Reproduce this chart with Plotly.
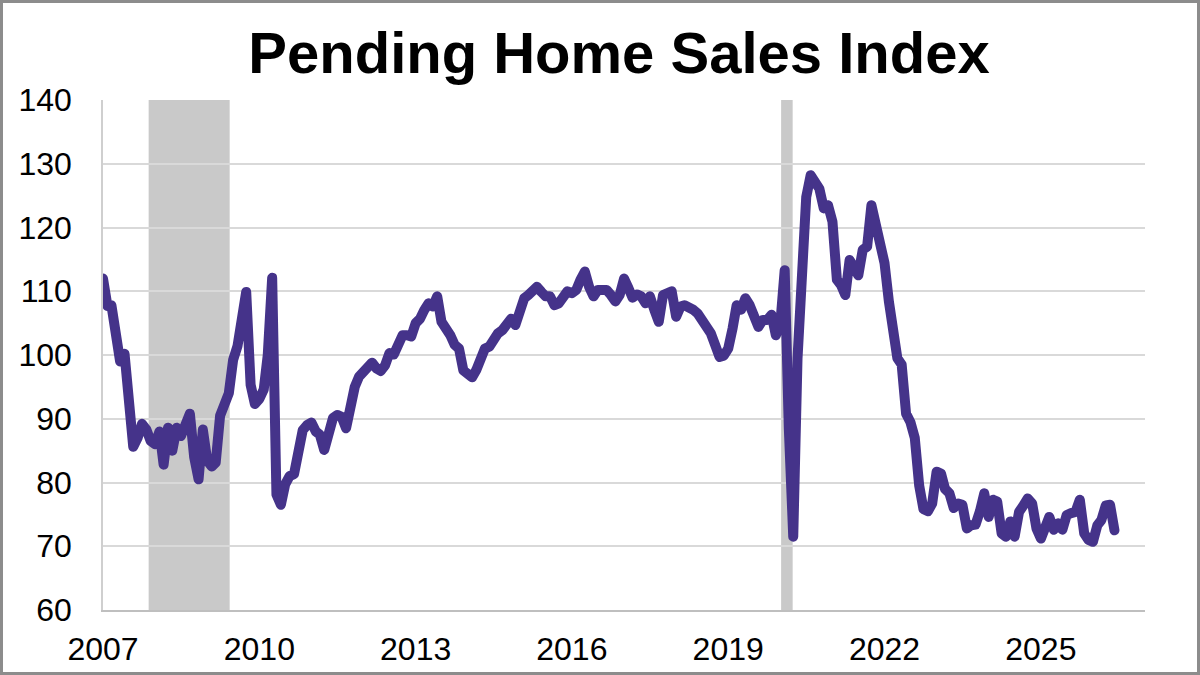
import pandas as pd
import plotly.graph_objects as go

# Pending Home Sales Index, monthly values
phsi_2007 = [112.0, 107.7, 107.8, 104.0, 99.0, 100.2, 93.5, 85.6, 87.0, 89.2, 88.3, 86.5]
phsi_2008 = [86.0, 88.0, 82.8, 88.6, 85.0, 88.6, 87.3, 89.2, 90.8, 84.0, 80.5, 88.3]
phsi_2009 = [83.4, 82.5, 83.1, 90.5, 92.2, 94.0, 99.2, 101.4, 105.7, 109.9, 95.3, 92.3]
phsi_2010 = [93.1, 94.6, 100.0, 112.1, 78.1, 76.5, 79.7, 81.0, 81.3, 86.0, 88.2, 89.0]
phsi_2011 = [89.4, 88.0, 87.5, 85.1, 88.2, 90.1, 90.6, 90.3, 88.5, 92.9, 95.0, 96.6]
phsi_2012 = [97.4, 98.2, 98.8, 97.9, 97.5, 98.4, 100.3, 100.1, 101.6, 103.1, 103.1, 102.9]
phsi_2013 = [105.0, 105.7, 107.0, 108.1, 107.6, 109.2, 105.2, 104.4, 103.1, 101.6, 101.0, 97.6]
phsi_2014 = [97.0, 96.5, 97.6, 99.7, 101.0, 101.3, 102.6, 103.4, 103.9, 105.2, 105.7, 104.7]
phsi_2015 = [107.6, 108.9, 109.4, 110.4, 110.7, 109.9, 109.2, 109.2, 107.8, 108.1, 109.2, 110.0]
phsi_2016 = [109.7, 110.2, 111.8, 113.1, 110.7, 109.2, 110.2, 110.2, 110.2, 109.4, 108.4, 109.4]
phsi_2017 = [112.0, 110.5, 109.0, 109.5, 109.2, 108.1, 109.2, 107.1, 105.2, 109.4, 109.7, 110.0]
phsi_2018 = [106.0, 107.6, 107.8, 107.6, 107.1, 106.5, 105.5, 104.4, 103.4, 101.6, 99.7, 99.9]
phsi_2019 = [101.0, 104.2, 107.8, 107.1, 108.9, 107.8, 105.5, 104.4, 105.5, 105.5, 106.3, 103.1]
phsi_2020 = [104.8, 113.3, 88.5, 71.5, 99.5, 116.5, 124.8, 128.2, 126.7, 126.1, 123.0, 123.5]
phsi_2021 = [120.9, 111.8, 111.0, 109.4, 114.9, 113.3, 112.5, 116.5, 117.0, 123.5, 120.7, 117.5]
phsi_2022 = [114.4, 108.3, 105.0, 99.5, 98.5, 90.8, 89.5, 87.0, 79.5, 75.8, 75.5, 76.7]
phsi_2023 = [81.7, 81.4, 79.0, 78.3, 76.0, 76.7, 76.5, 72.8, 73.3, 73.4, 75.5, 78.3]
phsi_2024 = [74.6, 77.3, 77.0, 72.0, 71.5, 73.9, 71.5, 75.4, 76.4, 77.5, 76.7, 72.8]
phsi_2025 = [71.2, 73.3, 74.6, 72.6, 73.6, 72.6, 74.9, 75.2, 75.4, 77.3, 72.0, 71.0]
phsi_2026 = [70.7, 73.3, 74.1, 76.4, 76.5, 72.5]

series_start = "2007-01-01"

# Recession periods (shaded)
recession_starts = ["2007-11-17", "2020-01-07"]
recession_ends = ["2009-06-07", "2020-03-28"]

# Axis ticks
tick_years = ["2007", "2010", "2013", "2016", "2019", "2022", "2025"]
y_ticks = [60, 70, 80, 90, 100, 110, 120, 130, 140]

values = (phsi_2007 + phsi_2008 + phsi_2009 + phsi_2010 + phsi_2011 + phsi_2012
          + phsi_2013 + phsi_2014 + phsi_2015 + phsi_2016 + phsi_2017 + phsi_2018
          + phsi_2019 + phsi_2020 + phsi_2021 + phsi_2022 + phsi_2023 + phsi_2024
          + phsi_2025 + phsi_2026)
dates = pd.date_range(series_start, periods=len(values), freq="MS")

FONT = "Liberation Sans, Arial, sans-serif"
LINE_COLOR = "#45338A"
SHADE = "#C9C9C9"
GRID = "#D9D9D9"

fig = go.Figure()
fig.add_trace(go.Scatter(
    x=dates, y=values, mode="lines",
    line=dict(color=LINE_COLOR, width=10),
    hoverinfo="skip", showlegend=False,
))

shapes = []
for s, e in zip(recession_starts, recession_ends):
    shapes.append(dict(type="rect", xref="x", yref="paper", x0=s, x1=e, y0=0, y1=1,
                       fillcolor=SHADE, line=dict(width=0), layer="between"))

# Outer frame around the whole figure (paper coords extended into margins)
W, H = 1200, 675
ml, mr, mt, mb = 103, 55, 100, 65
pw, ph = W - ml - mr, H - mt - mb
inset = 1.5
shapes.append(dict(type="rect", xref="paper", yref="paper",
                   x0=(-ml + inset) / pw, x1=1 + (mr - inset) / pw,
                   y0=(-mb + inset) / ph, y1=1 + (mt - inset) / ph,
                   line=dict(color="#8C8C8C", width=3), fillcolor="rgba(0,0,0,0)",
                   layer="above"))

fig.update_layout(
    width=W, height=H,
    margin=dict(l=ml, r=mr, t=mt, b=mb, pad=0),
    paper_bgcolor="white", plot_bgcolor="white",
    font=dict(family=FONT, color="black"),
    title=dict(text="<b>Pending Home Sales Index</b>",
               font=dict(family=FONT, size=58, color="black"),
               x=619 / W, xref="container", xanchor="center",
               y=1 - 53 / H, yref="container", yanchor="middle"),
    shapes=shapes,
    showlegend=False,
)

fig.update_xaxes(
    type="date",
    range=["2007-01-01", "2027-01-01"],
    tickvals=[f"{y}-01-01" for y in tick_years],
    ticktext=tick_years,
    tickfont=dict(family=FONT, size=32, color="black"),
    showgrid=False, zeroline=False,
    showline=True, linecolor="#BFBFBF", linewidth=1.5,
    ticks="", ticklabelstandoff=10,
    automargin=False,
)
fig.update_yaxes(
    range=[60, 140],
    tickvals=y_ticks,
    tickfont=dict(family=FONT, size=32, color="black"),
    showgrid=True, gridcolor=GRID, gridwidth=1.5,
    zeroline=False,
    showline=True, linecolor="#CFCFCF", linewidth=1.5,
    ticks="", ticklabelstandoff=23,
    automargin=False,
)

post = ("var s=document.createElement('style');"
        "s.innerHTML='.js-line{stroke-linejoin:round!important;stroke-linecap:round!important;}';"
        "document.head.appendChild(s);")

fig.write_html("out.html", post_script=post)
